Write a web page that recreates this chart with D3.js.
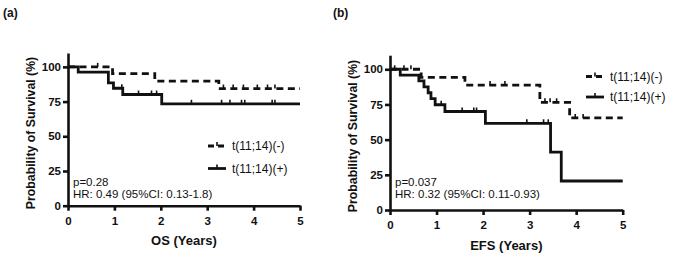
<!DOCTYPE html>
<html>
<head>
<meta charset="utf-8">
<script src="https://cdn.jsdelivr.net/npm/d3@7"></script>
<style>
  body { margin: 0; background: #fff; }
  text { font-family: "Liberation Sans", Arial, sans-serif; fill: #111; }
</style>
</head>
<body>
<svg id="chart" width="677" height="257"></svg>
<script>
const yearTicks = [0, 1, 2, 3, 4, 5];
const survTicks = [0, 25, 50, 75, 100];
const seriesNames = ["t(11;14)(-)", "t(11;14)(+)"];

// (a) overall survival
const osNegTimes = [0, 0.96, 1.87, 3.25];
const osNegSurv = [100, 95.2, 89.8, 84.4];
const osNegCensor = [0.64, 3.35, 3.56, 3.78, 4.08, 4.3, 4.46];
const osPosTimes = [0, 0.22, 0.87, 0.98, 1.18, 2.02];
const osPosSurv = [100, 96.2, 88.5, 84.6, 80.1, 73.4];
const osPosCensor = [1.16, 1.52, 1.8, 1.91, 2.66, 3.31, 3.49, 3.74, 3.81, 4.4, 4.46];

// (b) event-free survival
const efsNegTimes = [0, 0.67, 1.61, 3.22, 3.86];
const efsNegSurv = [100, 94.2, 88.8, 76.5, 65.4];
const efsNegCensor = [0.1, 0.3, 0.45, 2.15, 2.47, 3.33, 3.44, 3.58, 3.98, 4.15];
const efsPosTimes = [0, 0.22, 0.62, 0.73, 0.82, 0.88, 0.97, 1.18, 2.05, 3.45, 3.68];
const efsPosSurv = [100, 95.8, 91.7, 87.5, 83.3, 79.2, 74.8, 70, 61.6, 41.1, 20.6];
const efsPosCensor = [1.1, 1.55, 1.8, 1.86, 2.94, 3.3, 3.4];

const svg = d3.select('#chart');
const ink = '#111';

function stepAt(times, surv, t) {
  let v = surv[0];
  times.forEach((tt, i) => { if (tt <= t) v = surv[i]; });
  return v;
}

function drawPanel(p) {
  const g = svg.append('g');

  const x = d3.scaleLinear().domain([0, 5]).range([p.left, p.right]);
  const y = d3.scaleLinear().domain([0, 110]).range([p.bottom, p.top]);

  // axes
  const xAxis = g.append('g')
    .attr('transform', `translate(0, ${p.bottom})`)
    .call(d3.axisBottom(x).tickValues(yearTicks).tickFormat(d3.format('d'))
      .tickSize(5).tickSizeOuter(0).tickPadding(6));
  const yAxis = g.append('g')
    .attr('transform', `translate(${p.left}, 0)`)
    .call(d3.axisLeft(y).tickValues(survTicks).tickFormat(d3.format('d'))
      .tickSize(5).tickSizeOuter(0).tickPadding(2));

  [xAxis, yAxis].forEach(a => {
    a.select('.domain').attr('stroke', ink).attr('stroke-width', 2.6);
    a.selectAll('.tick line').attr('stroke', ink).attr('stroke-width', 2.6);
    a.selectAll('.tick text')
      .attr('fill', ink)
      .style('font-size', '11.5px')
      .style('font-weight', 'bold')
      .style('font-family', '"Liberation Sans", Arial, sans-serif');
  });

  const line = d3.line()
    .x(d => x(d[0]))
    .y(d => y(d[1]))
    .curve(d3.curveStepAfter);

  p.series.forEach(s => {
    const pts = s.times.map((t, i) => [t, s.surv[i]]);
    pts.push([5, s.surv[s.surv.length - 1]]);
    g.append('path')
      .datum(pts)
      .attr('d', line)
      .attr('fill', 'none')
      .attr('stroke', ink)
      .attr('stroke-width', 2.8)
      .attr('stroke-dasharray', s.dashed ? '7,4.5' : null);

    // censor ticks
    g.selectAll(null)
      .data(s.censor)
      .enter()
      .append('line')
      .attr('x1', d => x(d)).attr('x2', d => x(d))
      .attr('y1', d => y(stepAt(s.times, s.surv, d)))
      .attr('y2', d => y(stepAt(s.times, s.surv, d)) - 4)
      .attr('stroke', ink)
      .attr('stroke-width', 1.6);
  });

  // legend
  p.series.forEach((s, i) => {
    const ly = p.legendY + i * p.legendGap;
    const lx = p.legendX;
    g.append('line')
      .attr('x1', lx).attr('x2', lx + 18)
      .attr('y1', ly).attr('y2', ly)
      .attr('stroke', ink).attr('stroke-width', 2.8)
      .attr('stroke-dasharray', s.dashed ? '6,4' : null);
    g.append('line')
      .attr('x1', lx + 9).attr('x2', lx + 9)
      .attr('y1', ly).attr('y2', ly - 4)
      .attr('stroke', ink).attr('stroke-width', 1.6);
    g.append('text')
      .attr('x', lx + 24).attr('y', ly + 4)
      .style('font-size', '12px')
      .text(seriesNames[i]);
  });

  // stats
  g.append('text')
    .attr('x', p.left + 5).attr('y', 186)
    .style('font-size', '11.5px')
    .text(p.pText);
  g.append('text')
    .attr('x', p.left + 5).attr('y', 197.5)
    .style('font-size', '11.5px')
    .text(p.hrText);

  // titles
  g.append('text')
    .attr('x', (p.left + p.right) / 2).attr('y', p.xTitleY)
    .attr('text-anchor', 'middle')
    .style('font-size', '13px').style('font-weight', 'bold')
    .text(p.xTitle);
  g.append('text')
    .attr('transform', `translate(${p.yTitleX}, ${p.yTitleMid}) rotate(-90)`)
    .attr('text-anchor', 'middle')
    .style('font-size', '12.3px').style('font-weight', 'bold')
    .text('Probability of Survival (%)');
  g.append('text')
    .attr('x', p.tagX).attr('y', 17)
    .style('font-size', '12px').style('font-weight', 'bold')
    .text(p.tag);
}

drawPanel({
  tag: '(a)', tagX: 3,
  left: 68, right: 300, top: 53, bottom: 205.7,
  xTitle: 'OS (Years)', xTitleY: 244.5,
  yTitleX: 34.5, yTitleMid: 133,
  legendX: 208, legendY: 146, legendGap: 22.5,
  pText: 'p=0.28', hrText: 'HR: 0.49 (95%CI: 0.13-1.8)',
  series: [
    { times: osNegTimes, surv: osNegSurv, censor: osNegCensor, dashed: true },
    { times: osPosTimes, surv: osPosSurv, censor: osPosCensor, dashed: false }
  ]
});

drawPanel({
  tag: '(b)', tagX: 333,
  left: 390, right: 622.7, top: 55.2, bottom: 210,
  xTitle: 'EFS (Years)', xTitleY: 249.5,
  yTitleX: 356.5, yTitleMid: 136,
  legendX: 586, legendY: 76.5, legendGap: 20.5,
  pText: 'p=0.037', hrText: 'HR: 0.32 (95%CI: 0.11-0.93)',
  series: [
    { times: efsNegTimes, surv: efsNegSurv, censor: efsNegCensor, dashed: true },
    { times: efsPosTimes, surv: efsPosSurv, censor: efsPosCensor, dashed: false }
  ]
});
</script>
</body>
</html>
